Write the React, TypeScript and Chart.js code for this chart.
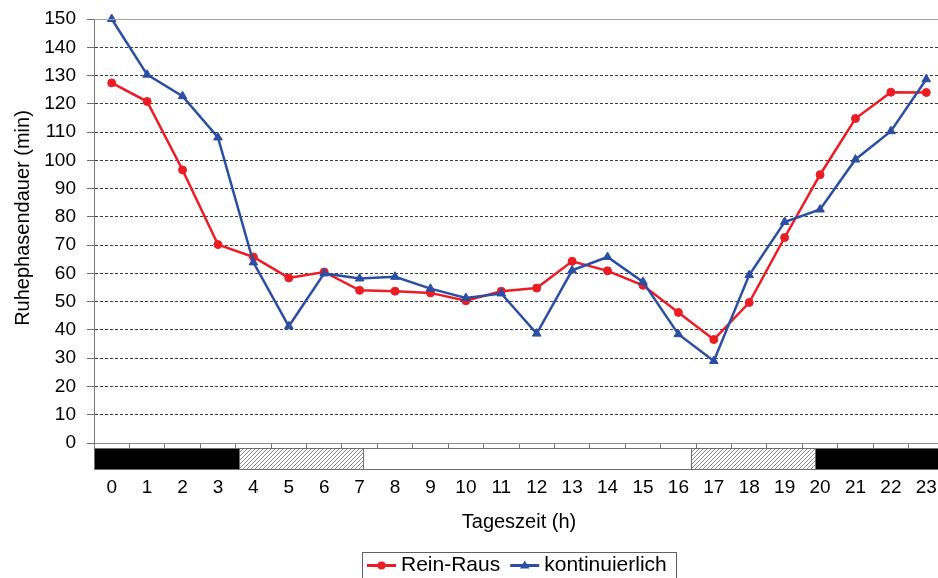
import React, { useEffect, useRef } from "react";
import { Chart, registerables } from "chart.js";

Chart.register(...registerables);

const FONT = "'Liberation Sans', Arial, Helvetica, sans-serif";

const hourLabels = ["0", "1", "2", "3", "4", "5", "6", "7", "8", "9", "10", "11", "12", "13", "14", "15", "16", "17", "18", "19", "20", "21", "22", "23"];
const reinRaus = [127.4, 120.8, 96.6, 70.2, 65.8, 58.4, 60.5, 54.0, 53.7, 53.1, 50.3, 53.7, 54.8, 64.3, 60.9, 55.8, 46.2, 36.6, 49.7, 72.7, 94.9, 114.8, 124.1, 124.0];
const kontinuierlich = [150.0, 130.3, 122.7, 108.1, 63.9, 41.3, 60.0, 58.2, 58.8, 54.6, 51.3, 52.9, 38.7, 61.1, 65.8, 57.0, 38.5, 29.0, 59.4, 78.2, 82.6, 100.3, 110.3, 128.7];
const seriesNames = ["Rein-Raus", "kontinuierlich"];
const yMin = 0;
const yMax = 150;
const yStep = 10;
const xTitle = "Tageszeit (h)";
const yTitle = "Ruhephasendauer (min)";
// light regime below the axis (hours; -0.5 and 23.5 are the axis ends)
const phaseFrom = [-0.5, 3.6, 7.1, 16.35, 19.85];
const phaseTo = [3.6, 7.1, 16.35, 19.85, 23.5];
const phaseKind = ["dark", "twilight", "light", "twilight", "dark"];

const RED = "#ec1c24";
const BLUE = "#2c4fa3";
const CW = 950;
const CH = 578;

function makeHatch(): CanvasPattern | string {
  const c = document.createElement("canvas");
  c.width = 4;
  c.height = 4;
  const g = c.getContext("2d");
  if (!g) return "#ccc";
  g.fillStyle = "#ffffff";
  g.fillRect(0, 0, 4, 4);
  g.strokeStyle = "#8a8a8a";
  g.lineWidth = 1;
  g.beginPath();
  g.moveTo(0, 4);
  g.lineTo(4, 0);
  g.moveTo(-1, 1);
  g.lineTo(1, -1);
  g.moveTo(3, 5);
  g.lineTo(5, 3);
  g.stroke();
  const p = g.createPattern(c, "repeat");
  return p || "#ccc";
}

function drawTriangle(ctx: CanvasRenderingContext2D, x: number, y: number, r: number) {
  ctx.beginPath();
  ctx.moveTo(x, y - r);
  ctx.lineTo(x + r * 0.95, y + r * 0.6);
  ctx.lineTo(x - r * 0.95, y + r * 0.6);
  ctx.closePath();
  ctx.fill();
}

export default function App() {
  const ref = useRef<HTMLCanvasElement>(null);

  useEffect(() => {
    const canvas = ref.current;
    if (!canvas) return;
    const hatch = makeHatch();

    const extras = {
      id: "extras",
      afterDraw(chart: any) {
        const { ctx, chartArea, scales } = chart;
        const x = scales.x;
        ctx.save();
        // top frame line
        ctx.strokeStyle = "#a6a6a6";
        ctx.lineWidth = 1;
        ctx.beginPath();
        ctx.moveTo(chartArea.left, Math.round(chartArea.top) + 0.5);
        ctx.lineTo(chartArea.right, Math.round(chartArea.top) + 0.5);
        ctx.stroke();

        // light regime strip
        const top = Math.round(chartArea.bottom) + 5;
        const h = 22;
        for (let i = 0; i < phaseKind.length; i++) {
          const x1 = Math.round(x.getPixelForValue(phaseFrom[i]));
          const x2 = Math.round(x.getPixelForValue(phaseTo[i]));
          const k = phaseKind[i];
          ctx.fillStyle = k === "dark" ? "#000000" : k === "twilight" ? hatch : "#ffffff";
          ctx.fillRect(x1, top, x2 - x1, h);
          ctx.strokeStyle = "#6e6e6e";
          ctx.lineWidth = 1;
          ctx.strokeRect(x1 + 0.5, top + 0.5, x2 - x1, h - 1);
        }

        // y axis title
        ctx.fillStyle = "#000";
        ctx.font = `20px ${FONT}`;
        ctx.textAlign = "center";
        ctx.textBaseline = "middle";
        ctx.translate(23, 218);
        ctx.rotate(-Math.PI / 2);
        ctx.fillText(yTitle, 0, 0);
        ctx.setTransform(1, 0, 0, 1, 0, 0);

        // legend
        ctx.font = `21px ${FONT}`;
        const w1 = ctx.measureText(seriesNames[0]).width;
        const w2 = ctx.measureText(seriesNames[1]).width;
        const total = 5 + 29 + 5 + w1 + 10 + 29 + 5 + w2 + 9;
        const cx = (chartArea.left + chartArea.right) / 2;
        const lx = Math.round(cx - total / 2);
        const ly = 552;
        const midY = 565.5;
        ctx.strokeStyle = "#606060";
        ctx.lineWidth = 1;
        ctx.strokeRect(lx + 0.5, ly + 0.5, Math.round(total), 40);
        let px = lx + 5;
        ctx.strokeStyle = RED;
        ctx.fillStyle = RED;
        ctx.lineWidth = 3;
        ctx.beginPath();
        ctx.moveTo(px, midY);
        ctx.lineTo(px + 29, midY);
        ctx.stroke();
        ctx.beginPath();
        ctx.arc(px + 14.5, midY, 4, 0, Math.PI * 2);
        ctx.fill();
        px += 34;
        ctx.fillStyle = "#000";
        ctx.textAlign = "left";
        ctx.fillText(seriesNames[0], px, midY);
        px += w1 + 10;
        ctx.strokeStyle = BLUE;
        ctx.fillStyle = BLUE;
        ctx.beginPath();
        ctx.moveTo(px, midY);
        ctx.lineTo(px + 29, midY);
        ctx.stroke();
        drawTriangle(ctx, px + 14.5, midY, 5);
        px += 34;
        ctx.fillStyle = "#000";
        ctx.fillText(seriesNames[1], px, midY);
        ctx.restore();
      },
    };

    const chart = new Chart(canvas, {
      type: "line",
      data: {
        labels: hourLabels,
        datasets: [
          {
            label: seriesNames[0],
            data: reinRaus,
            borderColor: RED,
            backgroundColor: RED,
            borderWidth: 2.5,
            pointStyle: "circle",
            pointRadius: 4,
            pointBorderWidth: 1,
            tension: 0,
            clip: false as any,
            order: 1,
          },
          {
            label: seriesNames[1],
            data: kontinuierlich,
            borderColor: BLUE,
            backgroundColor: BLUE,
            borderWidth: 2.5,
            pointStyle: "triangle",
            pointRadius: 5,
            pointBorderWidth: 1,
            tension: 0,
            clip: false as any,
            order: 0,
          },
        ],
      },
      options: {
        responsive: false,
        animation: false,
        devicePixelRatio: 1,
        layout: { padding: { top: 19, left: 0, right: 0, bottom: 0 } },
        plugins: {
          legend: { display: false },
          tooltip: { enabled: false },
        },
        scales: {
          x: {
            type: "category",
            offset: true,
            grid: {
              display: true,
              offset: true,
              drawOnChartArea: false,
              drawTicks: true,
              tickLength: 5,
              tickColor: "#7a7a7a",
              color: "#7a7a7a",
            },
            border: { display: true, color: "#8c8c8c", width: 1 },
            ticks: {
              color: "#000",
              font: { family: FONT, size: 19 },
              padding: 28,
              maxRotation: 0,
              autoSkip: false,
            },
            title: {
              display: true,
              text: xTitle,
              color: "#000",
              font: { family: FONT, size: 20 },
              padding: { top: 0, bottom: 44 },
            },
            afterFit: (s: any) => {
              s.height = 135;
              s.paddingLeft = 0;
              s.paddingRight = 0;
            },
          },
          y: {
            min: yMin,
            max: yMax,
            grid: {
              display: true,
              drawOnChartArea: true,
              drawTicks: true,
              tickLength: 7,
              tickColor: "#6e6e6e",
              color: (c: any) =>
                c.tick && (c.tick.value === yMin || c.tick.value === yMax) ? "rgba(0,0,0,0)" : "#3a3a3a",
            },
            border: { display: true, color: "#7a7a7a", width: 1, dash: [3, 2] },
            ticks: {
              stepSize: yStep,
              color: "#000",
              font: { family: FONT, size: 19 },
              padding: 11,
            },
            afterFit: (s: any) => {
              s.width = 94;
              s.paddingTop = 0;
              s.paddingBottom = 0;
            },
          },
        },
      },
      plugins: [extras],
    });

    return () => chart.destroy();
  }, []);

  return (
    <div
      style={{
        position: "fixed",
        left: 0,
        top: 0,
        width: 938,
        height: 578,
        overflow: "hidden",
        background: "#ffffff",
      }}
    >
      <div style={{ position: "absolute", left: 0, top: 0, width: CW, height: CH }}>
        <canvas ref={ref} width={CW} height={CH} style={{ display: "block", width: CW, height: CH }} />
      </div>
    </div>
  );
}
